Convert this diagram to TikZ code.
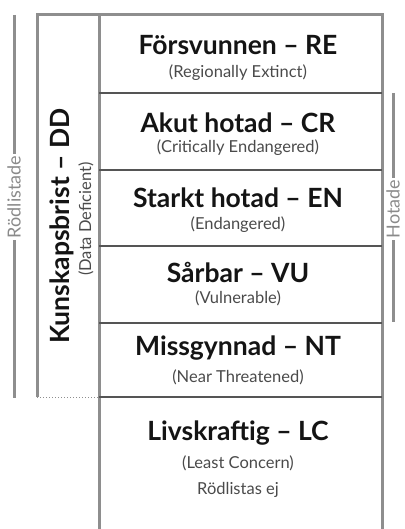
\documentclass[tikz,border=0pt]{standalone}
\usepackage{fontspec}
\setmainfont{Lato}
\usepackage{tikz}
\definecolor{FrameGrey}{HTML}{8E8E8E}
\definecolor{RuleGrey}{HTML}{555555}
\definecolor{SubGrey}{HTML}{4A4A4A}
\definecolor{TagGrey}{HTML}{8A8A8A}
\begin{document}
\begin{tikzpicture}[
        x=1pt, y=-1pt,
        frame/.style={draw=FrameGrey, line width=3pt},
        rule/.style={draw=RuleGrey, line width=1.5pt},
        dotrule/.style={draw=FrameGrey, line width=1pt, dotted},
        bracket/.style={draw=FrameGrey, line width=3pt},
        cat/.style={
            font=\fontsize{26.5}{30}\selectfont\bfseries,
            text=black!92,
            inner sep=0pt
        },
        sub/.style={
            font=\fontsize{16.5}{19}\selectfont,
            text=SubGrey,
            inner sep=0pt
        },
        tag/.style={
            font=\fontsize{18}{20}\selectfont,
            text=TagGrey,
            rotate=90,
            inner sep=2pt
        }
    ]
        \useasboundingbox (0,0) rectangle (404,529);

        % frame
        \draw[frame] (37,397) -- (37,15) -- (382,15) -- (382,529);
        \draw[frame] (99,15) -- (99,529);
        \draw[dotrule] (37,397) -- (99,397);
        \draw[rule] (99,93) -- (382,93);
        \draw[rule] (99,170) -- (382,170);
        \draw[rule] (99,246) -- (382,246);
        \draw[rule] (99,323) -- (382,323);
        \draw[rule] (99,397) -- (382,397);

        % categories
        \node[cat] (re) at (238,45) {Försvunnen – RE};
        \node[sub] (resub) at (238,73) {(Regionally Extinct)};
        \node[cat] (cr) at (238,123) {Akut hotad – CR};
        \node[sub] (crsub) at (238,148) {(Critically Endangered)};
        \node[cat] (en) at (238,198) {Starkt hotad – EN};
        \node[sub] (ensub) at (238,225) {(Endangered)};
        \node[cat] (vu) at (238,272) {Sårbar – VU};
        \node[sub] (vusub) at (238,298) {(Vulnerable)};
        \node[cat] (nt) at (238,348) {Missgynnad – NT};
        \node[sub] (ntsub) at (238,377) {(Near Threatened)};
        \node[cat] (lc) at (238,433) {Livskraftig – LC};
        \node[sub] (lcsub) at (238,463) {(Least Concern)};
        \node[sub] (lcnote) at (238,490) {Rödlistas ej};

        \node[cat, rotate=90] (dd) at (62,226) {Kunskapsbrist – DD};
        \node[sub, rotate=90] (ddsub) at (86,219) {(Data Deficient)};

        % brackets
        \coordinate (rodtop) at (14,15);
        \coordinate (rodbot) at (14,398);
        \node[tag] (rod) at (14,197) {Rödlistade};
        \draw[bracket] (rodtop) -- (rod.east);
        \draw[bracket] (rod.west) -- (rodbot);

        \coordinate (hottop) at (393,93);
        \coordinate (hotbot) at (393,322);
        \node[tag] (hot) at (393,209) {Hotade};
        \draw[bracket] (hottop) -- (hot.east);
        \draw[bracket] (hot.west) -- (hotbot);
    \end{tikzpicture}
\end{document}
